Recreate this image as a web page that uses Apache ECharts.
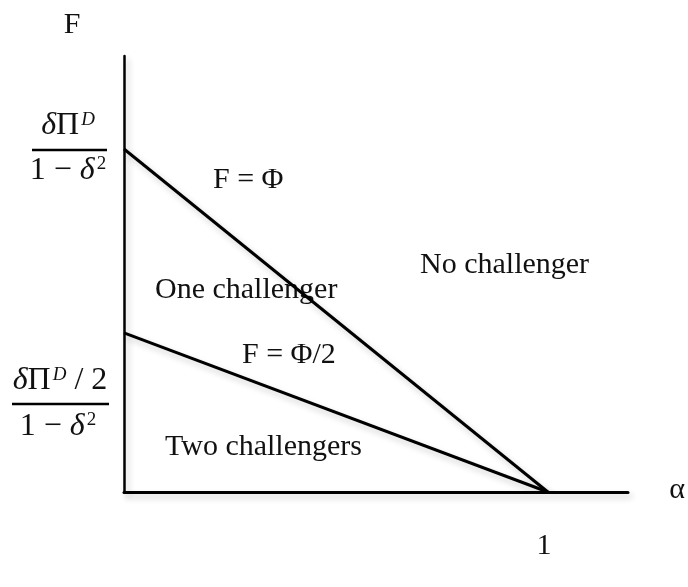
<!DOCTYPE html>
<html>
<head>
<meta charset="utf-8">
<script src="https://cdn.jsdelivr.net/npm/echarts@6/dist/echarts.min.js"></script>
<style>
  html, body { margin: 0; padding: 0; background: #fff; }
  #chart { width: 688px; height: 587px; }
</style>
</head>
<body>
<div id="chart"></div>
<script>
// Entry-deterrence regions in (alpha, F) space
const alphaPoints = [0, 1];
const boundaryFull = [1, 0];       // F = Φ
const boundaryHalf = [0.464, 0];   // F = Φ/2
const alphaMax = 1.189;
const fMax = 1.271;

const regionLabels = ['No challenger', 'One challenger', 'Two challengers'];
const boundaryLabels = ['F = Φ', 'F = Φ/2'];
const axisNames = ['F', 'α'];
const xTickLabels = ['1'];

const SERIF = '"Liberation Serif", "Times New Roman", serif';
const chart = echarts.init(document.getElementById('chart'), null, { renderer: 'canvas' });

function pairs(xs, ys) { return xs.map((x, i) => [x, ys[i]]); }

const shadow = { shadowColor: 'rgba(0,0,0,0.2)', shadowBlur: 6, shadowOffsetX: 3, shadowOffsetY: 4 };
const lineStyle = Object.assign({ color: '#000', width: 3 }, shadow);

const fracRich = {
  i: { fontFamily: SERIF, fontSize: 32, fontStyle: 'italic', fill: '#111' },
  n: { fontFamily: SERIF, fontSize: 32, fill: '#111' },
  s: { fontFamily: SERIF, fontSize: 19, fontStyle: 'italic', fill: '#111', verticalAlign: 'top', padding: [0, 0, 0, 2] },
  t: { fontFamily: SERIF, fontSize: 19, fill: '#111', verticalAlign: 'top', padding: [0, 0, 0, 2] }
};

function txt(text, x, y, align, size) {
  return {
    type: 'text', x: x, y: y, silent: true,
    style: { text: text, fontFamily: SERIF, fontSize: size || 30, fill: '#111', align: align || 'left', verticalAlign: 'middle' }
  };
}
function richTxt(text, x, y) {
  return {
    type: 'text', x: x, y: y, silent: true,
    style: { text: text, rich: fracRich, fontFamily: SERIF, fontSize: 32, fill: '#111', align: 'center', verticalAlign: 'middle' }
  };
}
function bar(x1, x2, y) {
  return { type: 'line', silent: true, shape: { x1: x1, y1: y, x2: x2, y2: y }, style: { stroke: '#000', lineWidth: 2.5 } };
}

const option = {
  backgroundColor: '#fff',
  animation: false,
  grid: { left: 124, top: 56, width: 504, height: 436 },
  xAxis: {
    type: 'value', min: 0, max: alphaMax,
    axisLine: { show: true, lineStyle: Object.assign({ color: '#000', width: 3 }, shadow) },
    axisTick: { show: false }, axisLabel: { show: false }, splitLine: { show: false }
  },
  yAxis: {
    type: 'value', min: 0, max: fMax,
    axisLine: { show: true, lineStyle: Object.assign({ color: '#000', width: 2.5 }, shadow) },
    axisTick: { show: false }, axisLabel: { show: false }, splitLine: { show: false }
  },
  series: [
    { type: 'line', data: pairs(alphaPoints, boundaryFull), symbol: 'none', lineStyle: lineStyle, z: 3 },
    { type: 'line', data: pairs(alphaPoints, boundaryHalf), symbol: 'none', lineStyle: lineStyle, z: 3 }
  ],
  graphic: [
    txt(axisNames[0], 72, 25, 'center'),
    txt(axisNames[1], 677, 490, 'center'),
    txt(xTickLabels[0], 544, 546, 'center'),
    txt(boundaryLabels[0], 213, 180),
    txt(boundaryLabels[1], 242, 355),
    txt(regionLabels[0], 420, 265),
    txt(regionLabels[1], 155, 290),
    txt(regionLabels[2], 165, 447),
    // top fraction: δΠ^D / (1 − δ²)
    richTxt('{i|δ}{n|Π}{s|D}', 68, 126),
    bar(32, 107, 150),
    richTxt('{n|1 − }{i|δ}{t|2}', 68, 171),
    // lower fraction: (δΠ^D / 2) / (1 − δ²)
    richTxt('{i|δ}{n|Π}{s|D}{n| / 2}', 60, 381),
    bar(12, 109, 404),
    richTxt('{n|1 − }{i|δ}{t|2}', 58, 427)
  ]
};

chart.setOption(option);
</script>
</body>
</html>
